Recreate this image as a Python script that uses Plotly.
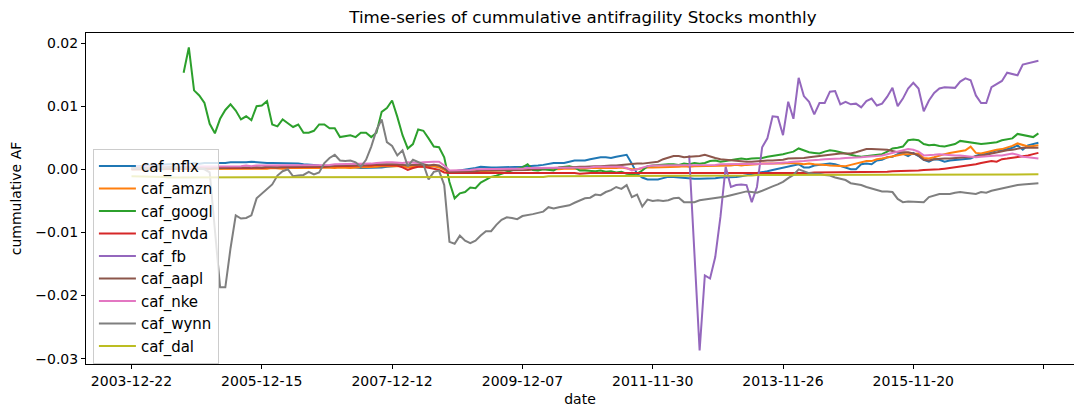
import plotly.graph_objects as go

# ---- data ----
tick_positions = [0, 25, 50, 75, 100, 125, 150, 175]
tick_labels = ["2003-12-22", "2005-12-15", "2007-12-12", "2009-12-07",
               "2011-11-30", "2013-11-26", "2015-11-20", ""]

caf_nflx = [
    0.0004, 0.0005, 0.0005, 0.0006, 0.0006, 0.0007, 0.0007, 0.0008, 0.0008, 0.0008,
    0.0009, 0.0009, 0.0010, 0.0009, 0.0010, 0.0010, 0.0009, 0.0009, 0.0010, 0.0011,
    0.0011, 0.0010, 0.0011, 0.0012, 0.0011, 0.0010, 0.0010, 0.0010, 0.0010, 0.0009,
    0.0009, 0.0009, 0.0009, 0.0008, 0.0008, 0.0007, 0.0006, 0.0006, 0.0006, 0.0005,
    0.0005, 0.0004, 0.0004, 0.0003, 0.0002, 0.0002, 0.0002, 0.0002, 0.0003, 0.0004,
    0.0005, 0.0005, 0.0006, 0.0006, 0.0007, 0.0007, 0.0007, 0.0006, 0.0006, 0.0004,
    0.0001, -0.0004, -0.0003, -0.0002, -0.0001, 0.0001, 0.0002, 0.0004, 0.0003, 0.0003,
    0.0003, 0.0003, 0.0003, 0.0004, 0.0004, 0.0004, 0.0005, 0.0005, 0.0006, 0.0007,
    0.0009, 0.0010, 0.0010, 0.0010, 0.0012, 0.0014, 0.0014, 0.0014, 0.0016, 0.0018,
    0.0019, 0.0019, 0.0018, 0.0020, 0.0021, 0.0023, 0.0009, -0.0007, -0.0013, -0.0016,
    -0.0016, -0.0016, -0.0014, -0.0012, -0.0012, -0.0013, -0.0014, -0.0015, -0.0015, -0.0015,
    -0.0015, -0.0014, -0.0014, -0.0013, -0.0013, -0.0012, -0.0012, -0.0011, -0.0010, -0.0008,
    -0.0006, -0.0005, -0.0003, -0.0001, 0.0001, 0.0003, 0.0004, 0.0006, 0.0008, 0.0003,
    0.0003, 0.0006, 0.0007, 0.0008, 0.0009, 0.0008, 0.0005, 0.0002, 0.0000, 0.0000,
    0.0008, 0.0009, 0.0008, 0.0014, 0.0015, 0.0019, 0.0020, 0.0024, 0.0025, 0.0021,
    0.0026, 0.0021, 0.0015, 0.0012, 0.0016, 0.0015, 0.0012, 0.0014, 0.0015, 0.0015,
    0.0017, 0.0017, 0.0021, 0.0024, 0.0025, 0.0027, 0.0030, 0.0030, 0.0032, 0.0034,
    0.0038, 0.0031, 0.0038, 0.0040, 0.0042,
]

caf_amzn = [
    0.0000, 0.0000, 0.0001, 0.0000, 0.0001, 0.0001, 0.0000, 0.0001, 0.0001, 0.0001,
    0.0001, 0.0000, 0.0001, 0.0001, 0.0000, 0.0001, 0.0001, 0.0000, 0.0000, 0.0001,
    0.0001, 0.0001, 0.0000, 0.0001, 0.0001, 0.0001, 0.0001, 0.0002, 0.0001, 0.0001,
    0.0002, 0.0002, 0.0001, 0.0002, 0.0002, 0.0002, 0.0002, 0.0003, 0.0002, 0.0002,
    0.0003, 0.0002, 0.0002, 0.0003, 0.0003, 0.0003, 0.0004, 0.0004, 0.0005, 0.0005,
    0.0004, 0.0005, 0.0005, 0.0003, 0.0004, 0.0005, 0.0004, 0.0004, 0.0005, 0.0003,
    -0.0001, -0.0005, -0.0005, -0.0004, -0.0004, -0.0003, -0.0003, -0.0003, -0.0002, -0.0002,
    -0.0002, -0.0002, -0.0001, -0.0001, -0.0002, -0.0001, -0.0001, 0.0000, 0.0000, -0.0001,
    0.0000, 0.0000, 0.0000, 0.0001, 0.0001, 0.0001, 0.0000, 0.0001, 0.0002, 0.0002,
    0.0002, 0.0001, 0.0002, 0.0002, 0.0003, 0.0001, 0.0000, 0.0000, 0.0002, 0.0003,
    0.0003, 0.0003, 0.0004, 0.0003, 0.0004, 0.0004, 0.0005, 0.0004, 0.0005, 0.0005,
    0.0005, 0.0005, 0.0006, 0.0005, 0.0006, 0.0006, 0.0007, 0.0006, 0.0007, 0.0007,
    0.0008, 0.0009, 0.0009, 0.0009, 0.0008, 0.0009, 0.0010, 0.0010, 0.0009, 0.0008,
    0.0009, 0.0008, 0.0008, 0.0007, 0.0006, 0.0006, 0.0005, 0.0005, 0.0007, 0.0009,
    0.0012, 0.0013, 0.0013, 0.0016, 0.0017, 0.0019, 0.0021, 0.0023, 0.0024, 0.0024,
    0.0024, 0.0025, 0.0018, 0.0017, 0.0019, 0.0022, 0.0024, 0.0026, 0.0027, 0.0028,
    0.0030, 0.0036, 0.0026, 0.0025, 0.0027, 0.0030, 0.0031, 0.0032, 0.0034, 0.0037,
    0.0041, 0.0038, 0.0036, 0.0037, 0.0038,
]

caf_googl = [
    None, None, None, None, None, None, None, None, None, None,
    0.0153, 0.0193, 0.0125, 0.0117, 0.0105, 0.0072, 0.0057, 0.0080, 0.0094, 0.0103,
    0.0093, 0.0079, 0.0084, 0.0078, 0.0100, 0.0101, 0.0108, 0.0071, 0.0068, 0.0079,
    0.0073, 0.0067, 0.0071, 0.0058, 0.0058, 0.0061, 0.0071, 0.0071, 0.0065, 0.0065,
    0.0051, 0.0052, 0.0054, 0.0051, 0.0058, 0.0058, 0.0051, 0.0058, 0.0091, 0.0097,
    0.0109, 0.0083, 0.0054, 0.0033, 0.0040, 0.0063, 0.0061, 0.0049, 0.0036, 0.0035,
    0.0019, -0.0020, -0.0046, -0.0038, -0.0036, -0.0029, -0.0030, -0.0021, -0.0016, -0.0012,
    -0.0010, -0.0007, -0.0005, -0.0002, 0.0001, 0.0003, 0.0008, -0.0001, -0.0002, 0.0000,
    -0.0001, -0.0002, 0.0003, 0.0004, 0.0005, 0.0003, -0.0002, -0.0002, -0.0003, -0.0003,
    -0.0002, -0.0004, -0.0003, -0.0005, -0.0004, -0.0007, -0.0008, -0.0007, -0.0002, 0.0005,
    0.0006, 0.0007, 0.0007, 0.0008, 0.0008, 0.0007, 0.0009, 0.0008, 0.0010, 0.0009,
    0.0010, 0.0013, 0.0014, 0.0012, 0.0013, 0.0015, 0.0016, 0.0017, 0.0016, 0.0017,
    0.0017, 0.0018, 0.0020, 0.0021, 0.0022, 0.0024, 0.0026, 0.0028, 0.0033, 0.0030,
    0.0027, 0.0026, 0.0025, 0.0028, 0.0030, 0.0029, 0.0027, 0.0025, 0.0022, 0.0021,
    0.0020, 0.0021, 0.0022, 0.0023, 0.0024, 0.0028, 0.0033, 0.0034, 0.0036, 0.0046,
    0.0047, 0.0046, 0.0040, 0.0038, 0.0039, 0.0037, 0.0036, 0.0038, 0.0040, 0.0045,
    0.0044, 0.0043, 0.0042, 0.0040, 0.0041, 0.0042, 0.0043, 0.0046, 0.0047, 0.0049,
    0.0056, 0.0054, 0.0053, 0.0051, 0.0057,
]

caf_nvda = [
    0.0000, 0.0000, 0.0000, 0.0001, 0.0000, 0.0001, 0.0001, 0.0001, 0.0000, 0.0001,
    0.0001, 0.0001, 0.0001, 0.0002, 0.0001, 0.0001, 0.0002, 0.0002, 0.0001, 0.0002,
    0.0002, 0.0002, 0.0002, 0.0002, 0.0003, 0.0002, 0.0003, 0.0003, 0.0003, 0.0003,
    0.0003, 0.0003, 0.0004, 0.0003, 0.0004, 0.0004, 0.0004, 0.0004, 0.0005, 0.0005,
    0.0005, 0.0005, 0.0005, 0.0005, 0.0006, 0.0006, 0.0006, 0.0007, 0.0007, 0.0007,
    0.0007, 0.0006, 0.0003, -0.0001, 0.0002, 0.0004, 0.0004, 0.0003, 0.0001, -0.0001,
    -0.0005, -0.0006, -0.0006, -0.0005, -0.0005, -0.0005, -0.0005, -0.0005, -0.0005, -0.0005,
    -0.0005, -0.0005, -0.0006, -0.0005, -0.0005, -0.0006, -0.0006, -0.0005, -0.0005, -0.0006,
    -0.0006, -0.0006, -0.0005, -0.0006, -0.0006, -0.0006, -0.0007, -0.0006, -0.0006, -0.0006,
    -0.0006, -0.0006, -0.0006, -0.0007, -0.0007, -0.0006, -0.0006, -0.0006, -0.0007, -0.0007,
    -0.0007, -0.0007, -0.0007, -0.0007, -0.0006, -0.0006, -0.0006, -0.0006, -0.0006, -0.0006,
    -0.0006, -0.0006, -0.0006, -0.0006, -0.0006, -0.0006, -0.0006, -0.0006, -0.0006, -0.0006,
    -0.0006, -0.0006, -0.0006, -0.0006, -0.0006, -0.0006, -0.0006, -0.0006, -0.0006, -0.0006,
    -0.0006, -0.0005, -0.0005, -0.0005, -0.0005, -0.0005, -0.0005, -0.0005, -0.0005, -0.0005,
    -0.0005, -0.0004, -0.0004, -0.0004, -0.0004, -0.0004, -0.0003, -0.0003, -0.0002, -0.0002,
    -0.0002, -0.0002, -0.0001, -0.0001, -0.0001, 0.0000, 0.0001, 0.0002, 0.0003, 0.0004,
    0.0005, 0.0006, 0.0008, 0.0010, 0.0012, 0.0013, 0.0012, 0.0016, 0.0017, 0.0018,
    0.0019, 0.0020, 0.0022, 0.0024, 0.0026,
]

caf_fb = [None] * 107 + [
    0.0022, -0.0130, -0.0287,
    -0.0168, -0.0173, -0.0139, -0.0075, 0.0004, -0.0028, -0.0025, -0.0024, -0.0025, -0.0052,
    -0.0028, 0.0035, 0.0049, 0.0084, 0.0083, 0.0054, 0.0107, 0.0080, 0.0145, 0.0116,
    0.0107, 0.0087, 0.0105, 0.0105, 0.0123, 0.0124, 0.0103, 0.0107, 0.0103, 0.0104,
    0.0098, 0.0108, 0.0112, 0.0101, 0.0104, 0.0115, 0.0129, 0.0100, 0.0112, 0.0128,
    0.0137, 0.0128, 0.0092, 0.0109, 0.0121, 0.0128, 0.0130, 0.0129, 0.0129, 0.0139,
    0.0144, 0.0141, 0.0117, 0.0105, 0.0105, 0.0130, 0.0135, 0.0140, 0.0153, 0.0151,
    0.0149, 0.0166, 0.0168, 0.0170, 0.0172,
]

caf_aapl = [
    0.0000, 0.0000, -0.0001, 0.0000, 0.0000, 0.0001, 0.0000, 0.0001, 0.0001, 0.0001,
    0.0001, 0.0001, 0.0002, 0.0001, 0.0002, 0.0002, 0.0002, 0.0002, 0.0002, 0.0003,
    0.0003, 0.0002, 0.0003, 0.0003, 0.0003, 0.0003, 0.0004, 0.0003, 0.0003, 0.0004,
    0.0004, 0.0004, 0.0004, 0.0004, 0.0005, 0.0005, 0.0005, 0.0005, 0.0005, 0.0006,
    0.0006, 0.0006, 0.0006, 0.0006, 0.0007, 0.0007, 0.0008, 0.0008, 0.0009, 0.0009,
    0.0009, 0.0008, 0.0007, 0.0006, 0.0007, 0.0007, 0.0008, 0.0006, 0.0007, 0.0006,
    0.0001, -0.0004, -0.0004, -0.0004, -0.0003, -0.0003, -0.0003, -0.0002, -0.0002, -0.0002,
    -0.0002, -0.0002, -0.0002, -0.0001, -0.0001, -0.0001, -0.0001, 0.0000, 0.0001, 0.0001,
    0.0002, 0.0002, 0.0003, 0.0003, 0.0003, 0.0004, 0.0004, 0.0004, 0.0005, 0.0005,
    0.0005, 0.0006, 0.0006, 0.0006, 0.0007, 0.0008, 0.0008, 0.0009, 0.0009, 0.0010,
    0.0011, 0.0012, 0.0016, 0.0019, 0.0021, 0.0021, 0.0019, 0.0020, 0.0020, 0.0021,
    0.0023, 0.0020, 0.0018, 0.0016, 0.0015, 0.0014, 0.0014, 0.0013, 0.0012, 0.0012,
    0.0013, 0.0013, 0.0014, 0.0014, 0.0014, 0.0015, 0.0017, 0.0017, 0.0017, 0.0018,
    0.0019, 0.0020, 0.0021, 0.0022, 0.0024, 0.0024, 0.0025, 0.0025, 0.0025, 0.0027,
    0.0030, 0.0032, 0.0032, 0.0032, 0.0032, 0.0031, 0.0029, 0.0027, 0.0027, 0.0027,
    0.0025, 0.0022, 0.0015, 0.0014, 0.0016, 0.0017, 0.0017, 0.0017, 0.0018, 0.0018,
    0.0019, 0.0019, 0.0020, 0.0021, 0.0023, 0.0025, 0.0027, 0.0029, 0.0030, 0.0031,
    0.0033, 0.0034, 0.0034, 0.0034, 0.0034,
]

caf_nke = [
    0.0004, 0.0004, 0.0004, 0.0004, 0.0004, 0.0004, 0.0004, 0.0005, 0.0005, 0.0005,
    0.0005, 0.0005, 0.0005, 0.0005, 0.0005, 0.0005, 0.0005, 0.0005, 0.0005, 0.0005,
    0.0005, 0.0005, 0.0006, 0.0005, 0.0006, 0.0006, 0.0006, 0.0006, 0.0006, 0.0006,
    0.0006, 0.0006, 0.0006, 0.0007, 0.0007, 0.0007, 0.0007, 0.0007, 0.0007, 0.0008,
    0.0008, 0.0008, 0.0008, 0.0008, 0.0008, 0.0009, 0.0009, 0.0010, 0.0011, 0.0011,
    0.0011, 0.0010, 0.0010, 0.0011, 0.0010, 0.0010, 0.0011, 0.0012, 0.0012, 0.0012,
    0.0006, -0.0002, -0.0002, -0.0001, -0.0001, -0.0001, 0.0000, 0.0000, 0.0000, 0.0000,
    0.0000, 0.0001, 0.0001, 0.0001, 0.0001, 0.0001, 0.0002, 0.0002, 0.0002, 0.0002,
    0.0002, 0.0002, 0.0003, 0.0003, 0.0003, 0.0003, 0.0003, 0.0003, 0.0003, 0.0004,
    0.0004, 0.0004, 0.0004, 0.0005, 0.0004, 0.0002, -0.0002, 0.0000, 0.0003, 0.0005,
    0.0006, 0.0006, 0.0006, 0.0006, 0.0007, 0.0007, 0.0007, 0.0007, 0.0007, 0.0007,
    0.0007, 0.0007, 0.0007, 0.0008, 0.0008, 0.0008, 0.0008, 0.0008, 0.0008, 0.0009,
    0.0008, 0.0008, 0.0009, 0.0009, 0.0010, 0.0010, 0.0011, 0.0012, 0.0012, 0.0013,
    0.0014, 0.0014, 0.0015, 0.0016, 0.0016, 0.0017, 0.0017, 0.0018, 0.0018, 0.0019,
    0.0019, 0.0020, 0.0020, 0.0021, 0.0022, 0.0024, 0.0026, 0.0029, 0.0031, 0.0032,
    0.0031, 0.0028, 0.0022, 0.0022, 0.0023, 0.0024, 0.0023, 0.0023, 0.0022, 0.0022,
    0.0021, 0.0019, 0.0019, 0.0020, 0.0021, 0.0022, 0.0022, 0.0022, 0.0024, 0.0025,
    0.0023, 0.0020, 0.0019, 0.0018, 0.0017,
]

caf_wynn = [
    0.0002, 0.0003, 0.0003, 0.0002, 0.0003, 0.0004, 0.0003, 0.0004, 0.0004, 0.0003,
    0.0004, 0.0003, 0.0002, 0.0001, 0.0000, -0.0005, -0.0095, -0.0187, -0.0187, -0.0125,
    -0.0073, -0.0078, -0.0077, -0.0073, -0.0046, -0.0039, -0.0031, -0.0024, -0.0010, -0.0003,
    0.0000, -0.0011, -0.0010, -0.0009, -0.0004, -0.0008, -0.0005, 0.0010, 0.0018, 0.0023,
    0.0014, 0.0013, 0.0014, 0.0011, 0.0004, 0.0015, 0.0036, 0.0062, 0.0079, 0.0043,
    0.0037, 0.0022, 0.0030, 0.0005, 0.0015, 0.0012, 0.0008, -0.0016, -0.0004, -0.0002,
    -0.0025, -0.0115, -0.0118, -0.0105, -0.0113, -0.0117, -0.0113, -0.0105, -0.0098, -0.0098,
    -0.0088, -0.0080, -0.0076, -0.0077, -0.0079, -0.0074, -0.0073, -0.0071, -0.0069, -0.0067,
    -0.0060, -0.0062, -0.0060, -0.0059, -0.0057, -0.0053, -0.0049, -0.0046, -0.0045, -0.0040,
    -0.0041, -0.0036, -0.0033, -0.0028, -0.0031, -0.0025, -0.0044, -0.0040, -0.0059, -0.0048,
    -0.0050, -0.0049, -0.0050, -0.0049, -0.0046, -0.0045, -0.0052, -0.0052, -0.0052, -0.0049,
    -0.0048, -0.0047, -0.0046, -0.0044, -0.0043, -0.0041, -0.0039, -0.0038, -0.0035, -0.0036,
    -0.0037, -0.0034, -0.0030, -0.0027, -0.0024, -0.0020, -0.0014, -0.0009, 0.0000, -0.0003,
    -0.0006, -0.0007, -0.0007, -0.0009, -0.0010, -0.0013, -0.0015, -0.0017, -0.0022, -0.0023,
    -0.0025, -0.0028, -0.0030, -0.0032, -0.0035, -0.0035, -0.0036, -0.0047, -0.0052, -0.0051,
    -0.0051, -0.0051, -0.0052, -0.0044, -0.0042, -0.0039, -0.0039, -0.0039, -0.0037, -0.0036,
    -0.0037, -0.0038, -0.0039, -0.0036, -0.0037, -0.0034, -0.0032, -0.0030, -0.0028, -0.0027,
    -0.0025, -0.0024, -0.0023, -0.0022, -0.0022,
]

caf_dal = [
    -0.0011, -0.0011, -0.0012, -0.0012, -0.0012, -0.0012, -0.0012, -0.0013, -0.0013, -0.0013,
    -0.0013, -0.0013, -0.0013, -0.0013, -0.0013, -0.0013, -0.0013, -0.0013, -0.0013, -0.0013,
    -0.0013, -0.0013, -0.0013, -0.0013, -0.0013, -0.0013, -0.0013, -0.0013, -0.0013, -0.0013,
    -0.0013, -0.0013, -0.0013, -0.0013, -0.0013, -0.0013, -0.0013, -0.0013, -0.0013, -0.0013,
    -0.0013, -0.0013, -0.0013, -0.0013, -0.0012, -0.0012, -0.0012, -0.0012, -0.0012, -0.0012,
    -0.0012, -0.0012, -0.0012, -0.0012, -0.0012, -0.0012, -0.0012, -0.0012, -0.0012, -0.0012,
    -0.0012, -0.0012, -0.0012, -0.0012, -0.0012, -0.0012, -0.0012, -0.0012, -0.0012, -0.0012,
    -0.0012, -0.0012, -0.0012, -0.0012, -0.0012, -0.0012, -0.0012, -0.0012, -0.0012, -0.0012,
    -0.0011, -0.0011, -0.0011, -0.0011, -0.0011, -0.0011, -0.0011, -0.0011, -0.0011, -0.0011,
    -0.0011, -0.0011, -0.0011, -0.0011, -0.0011, -0.0011, -0.0011, -0.0011, -0.0011, -0.0011,
    -0.0011, -0.0011, -0.0011, -0.0011, -0.0011, -0.0010, -0.0010, -0.0010, -0.0010, -0.0010,
    -0.0010, -0.0010, -0.0010, -0.0010, -0.0010, -0.0010, -0.0010, -0.0010, -0.0010, -0.0010,
    -0.0009, -0.0009, -0.0009, -0.0009, -0.0009, -0.0009, -0.0009, -0.0009, -0.0009, -0.0009,
    -0.0009, -0.0009, -0.0009, -0.0009, -0.0009, -0.0009, -0.0009, -0.0009, -0.0009, -0.0009,
    -0.0008, -0.0008, -0.0008, -0.0008, -0.0008, -0.0008, -0.0008, -0.0008, -0.0008, -0.0008,
    -0.0008, -0.0008, -0.0008, -0.0008, -0.0008, -0.0008, -0.0008, -0.0008, -0.0008, -0.0008,
    -0.0008, -0.0008, -0.0008, -0.0008, -0.0008, -0.0008, -0.0008, -0.0008, -0.0008, -0.0008,
    -0.0008, -0.0008, -0.0008, -0.0008, -0.0008,
]

series_names = ["caf_nflx", "caf_amzn", "caf_googl", "caf_nvda", "caf_fb",
                "caf_aapl", "caf_nke", "caf_wynn", "caf_dal"]
series_values = [caf_nflx, caf_amzn, caf_googl, caf_nvda, caf_fb,
                 caf_aapl, caf_nke, caf_wynn, caf_dal]
series_colors = ["#1f77b4", "#ff7f0e", "#2ca02c", "#d62728", "#9467bd",
                 "#8c564b", "#e377c2", "#7f7f7f", "#bcbd22"]

FONT = "DejaVu Sans, Liberation Sans, sans-serif"

fig = go.Figure()
for name, vals, col in zip(series_names, series_values, series_colors):
    fig.add_trace(go.Scatter(
        x=list(range(len(vals))), y=vals, name=name, mode="lines",
        line=dict(color=col, width=2), connectgaps=False,
    ))

fig.update_layout(
    width=1074, height=412,
    margin=dict(l=86, r=0, t=33, b=48, autoexpand=False),
    paper_bgcolor="white", plot_bgcolor="white",
    font=dict(family=FONT, size=14, color="black"),
    title=dict(text="Time-series of cummulative antifragility Stocks monthly",
               x=0.503, xref="paper", xanchor="center",
               y=1 - 17 / 412, yref="container", yanchor="middle",
               font=dict(size=16.7, family=FONT, color="black")),
    showlegend=True,
    legend=dict(x=0.007, y=0.65, xanchor="left", yanchor="top",
                bgcolor="rgba(255,255,255,0.8)", bordercolor="#cccccc",
                borderwidth=1, font=dict(size=15, family=FONT, color="black"),
                tracegroupgap=0, itemwidth=37),
)

fig.update_xaxes(
    range=[-8.73, 180.83], tickmode="array",
    tickvals=tick_positions, ticktext=tick_labels,
    ticks="outside", ticklen=4, tickwidth=1, tickcolor="black",
    showline=True, linecolor="black", linewidth=1, mirror=True,
    showgrid=False, zeroline=False,
    tickfont=dict(size=14, family=FONT, color="black"),
    title=dict(text="date", font=dict(size=14, family=FONT, color="black"), standoff=6),
)
fig.update_yaxes(
    range=[-0.03084, 0.02159], tickmode="array",
    tickvals=[-0.03, -0.02, -0.01, 0.0, 0.01, 0.02], tickformat=".2f",
    ticks="outside", ticklen=4, tickwidth=1, tickcolor="black",
    showline=True, linecolor="black", linewidth=1, mirror=False,
    showgrid=False, zeroline=False,
    tickfont=dict(size=14, family=FONT, color="black"),
    title=dict(text="cummulative AF", font=dict(size=14, family=FONT, color="black"), standoff=10),
)

fig.write_html(
    "out.html",
    config={"displayModeBar": False},
    post_script="document.body.style.margin='0';document.body.style.overflow='hidden';",
)
